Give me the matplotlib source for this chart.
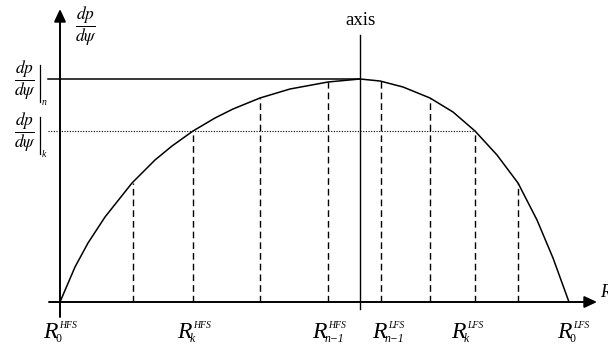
import numpy as np
import matplotlib.pyplot as plt
from matplotlib.transforms import offset_copy

plt.rcParams['mathtext.fontset'] = 'stix'
SERIF = 'Liberation Serif'

################################################################################
# Data
################################################################################

# profile dp/dpsi along R
r_curve = [0, 15, 28, 45, 72, 95, 112, 133, 155, 173, 200, 230, 268,
           300, 320, 343, 370, 393, 415, 437, 458, 477, 493, 509]
dp_curve = [0, 35, 59, 85, 119, 142, 156, 171, 184, 193, 204, 213, 220,
            223, 221, 215, 204, 190, 171, 147, 119, 82, 44, 0]

# dashed radial cuts
r_cuts = [73, 133, 200, 268, 321, 370, 415, 458]
dp_cuts = [119, 171, 204, 220, 221, 204, 171, 119]

r_axis = 300        # magnetic axis
dp_n = 223          # dp/dpsi at n
dp_k = 171          # dp/dpsi at k
r_k_lfs = 415

r_subs = ['0', 'k', 'n\u22121', 'n\u22121', 'k', '0']
r_sups = ['HFS', 'HFS', 'HFS', 'LFS', 'LFS', 'LFS']
level_subs = ['n', 'k']

################################################################################
# Layout
################################################################################

label_x = [-17, 117, 252, 312, 391, 497]
label_y = -36.5
FRAC_SIZE = 12.5

fig = plt.figure(figsize=(6.08, 3.48), dpi=100)
ax = fig.add_axes([0, 0, 1, 1])
ax.set_xlim(-60, 548)
ax.set_ylim(-46, 302)
ax.axis('off')

def shifted(dx, dy):
    return offset_copy(ax.transData, fig=fig, x=dx, y=dy, units='dots')

# axes with arrows
arrow = dict(arrowstyle='-|>,head_length=0.75,head_width=0.35',
             mutation_scale=10, lw=1.4, color='k', shrinkA=0, shrinkB=0)
ax.annotate('', xy=(537, 0), xytext=(-11, 0), arrowprops=arrow)
ax.annotate('', xy=(0, 293), xytext=(0, -15), arrowprops=arrow)

# curve
ax.plot(r_curve, dp_curve, color='k', lw=1.1)

# dashed cuts
for r, d in zip(r_cuts, dp_cuts):
    ax.plot([r, r], [0, d], color='k', lw=1.0, dashes=(4.8, 2.9))

# reference levels
ax.plot([-12, r_axis], [dp_n, dp_n], color='k', lw=1.1)
ax.plot([-12, r_k_lfs], [dp_k, dp_k], color='k', lw=0.8,
        linestyle=(0, (1, 1.4)))

# magnetic axis
ax.plot([r_axis, r_axis], [-7, 267], color='k', lw=1.0)
ax.text(r_axis, 277, 'axis', family=SERIF, fontsize=13.5,
        ha='center', va='baseline')

# y label
ax.text(26, 276, r'$\dfrac{dp}{d\psi}$', fontsize=FRAC_SIZE,
        ha='center', va='center')

# evaluated-at labels on the left
for lvl, sub in zip([dp_n, dp_k], level_subs):
    ax.text(-35, lvl - 1, r'$\dfrac{dp}{d\psi}$', fontsize=FRAC_SIZE,
            ha='center', va='center')
    ax.plot([-20, -20], [lvl + 14, lvl - 23], color='k', lw=0.9)
    ax.text(-18, lvl - 26, sub, family=SERIF, style='italic', fontsize=7,
            ha='left', va='baseline')

# R labels
for x, sub, sup in zip(label_x, r_subs, r_sups):
    ax.text(x, label_y, 'R', family=SERIF, style='italic', fontsize=17,
            ha='left', va='baseline')
    ax.text(x, label_y, sup, family=SERIF, style='italic', fontsize=7,
            ha='left', va='baseline', transform=shifted(16, 10))
    ax.text(x, label_y, sub, family=SERIF,
            style='normal' if sub.isdigit() else 'italic', fontsize=8.5,
            ha='left', va='baseline', transform=shifted(13, -3))

ax.text(540, 5, 'R', family=SERIF, style='italic', fontsize=13,
        ha='left', va='baseline')

fig.savefig('out.png', dpi=100)
